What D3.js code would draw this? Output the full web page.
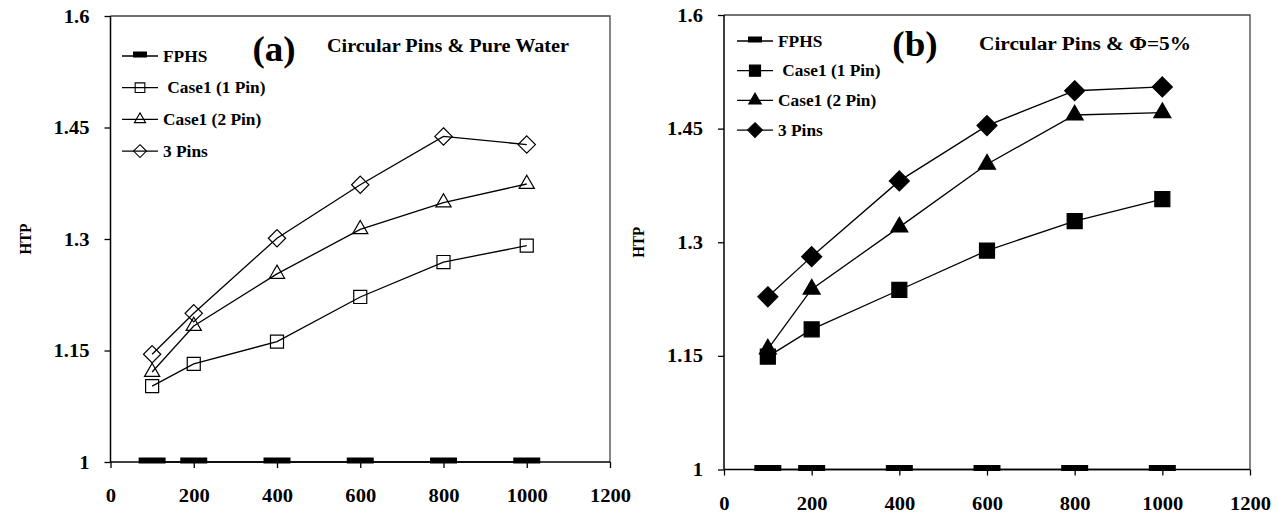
<!DOCTYPE html>
<html>
<head>
<meta charset="utf-8">
<script src="https://cdn.jsdelivr.net/npm/d3@7"></script>
<style>
  html, body { margin: 0; padding: 0; background: #fff; }
  svg { display: block; }
  text { font-family: "Liberation Serif", "Times New Roman", serif; font-weight: bold; fill: #000; }
</style>
</head>
<body>
<svg id="chart" width="1284" height="516"></svg>
<script>
// Flow rate settings shared by both panels
const xValues = [100, 200, 400, 600, 800, 1000];

// Panel (a): circular pins, pure water
const fphsA  = [1, 1, 1, 1, 1, 1];
const pin1A  = [1.102, 1.132, 1.162, 1.222, 1.269, 1.291];
const pin2A  = [1.121, 1.183, 1.253, 1.313, 1.349, 1.374];
const pins3A = [1.145, 1.200, 1.301, 1.373, 1.438, 1.427];

// Panel (b): circular pins, nanofluid at 5 %
const fphsB  = [1, 1, 1, 1, 1, 1];
const pin1B  = [1.149, 1.185, 1.237, 1.289, 1.328, 1.357];
const pin2B  = [1.159, 1.238, 1.320, 1.403, 1.468, 1.471];
const pins3B = [1.228, 1.281, 1.381, 1.454, 1.500, 1.505];

// Axis ticks
const xTicks = [0, 200, 400, 600, 800, 1000, 1200];
const yTicks = [1, 1.15, 1.3, 1.45, 1.6];
const yTickLabels = ["1", "1.15", "1.3", "1.45", "1.6"];

const seriesNames = ["FPHS", " Case1 (1 Pin)", "Case1 (2 Pin)", "3 Pins"];

const svg = d3.select("#chart");

// Widen glyphs horizontally by a factor, keeping the text anchor in place
function widen(sel, factor) {
  sel.each(function () {
    const w = this.getComputedTextLength();
    this.setAttribute("textLength", (w * factor).toFixed(1));
    this.setAttribute("lengthAdjust", "spacingAndGlyphs");
  });
}
function setWidth(sel, width) {
  sel.attr("textLength", width).attr("lengthAdjust", "spacingAndGlyphs");
}

// Rotated-square diamond (equal width and height)
const diamondType = {
  draw(ctx, size) {
    const r = Math.sqrt(size / 2);
    ctx.moveTo(0, -r); ctx.lineTo(r, 0); ctx.lineTo(0, r); ctx.lineTo(-r, 0); ctx.closePath();
  }
};
// Thick dash used for the flat reference series
const dashType = {
  draw(ctx, size) {
    const w = size, h = 6;
    ctx.rect(-w / 2, -h / 2 - 1.5, w, h);
  }
};

function drawPanel(cfg) {
  const g = svg.append("g");
  const x = d3.scaleLinear().domain([0, 1200]).range([cfg.left, cfg.right]);
  const y = d3.scaleLinear().domain([1, 1.6]).range([cfg.bottom, cfg.top]);

  // frame: top and right edges
  g.append("path")
    .attr("d", `M${cfg.left},${cfg.top}H${cfg.right}V${cfg.bottom}`)
    .attr("fill", "none").attr("stroke", "#444").attr("stroke-width", 1.3);

  const xAxis = g.append("g")
    .attr("transform", `translate(0,${cfg.bottom})`)
    .call(d3.axisBottom(x).tickValues(xTicks).tickSize(6).tickPadding(21).tickFormat(d3.format("d")));
  const yAxis = g.append("g")
    .attr("transform", `translate(${cfg.left},0)`)
    .call(d3.axisLeft(y).tickValues(yTicks).tickSize(6).tickPadding(15)
      .tickFormat((d, i) => yTickLabels[i]));
  [xAxis, yAxis].forEach(a => {
    a.attr("font-family", null);
    a.select(".domain").attr("stroke", "#000").attr("stroke-width", 1.5);
    a.selectAll(".tick line").attr("stroke", "#000").attr("stroke-width", 1.3);
    a.selectAll(".tick text").attr("font-size", 19).attr("fill", "#000");
    widen(a.selectAll(".tick text"), 1.08);
  });
  xAxis.select(".domain").attr("d", `M${cfg.left},0H${cfg.right}`);
  yAxis.select(".domain").attr("d", `M0,${cfg.bottom}V${cfg.top}`);

  const yTitle = g.append("text")
    .attr("transform", `translate(${cfg.left - 80},${(cfg.top + cfg.bottom) / 2}) rotate(-90)`)
    .attr("text-anchor", "middle").attr("font-size", 17).text("HTP");
  setWidth(yTitle, 31);

  const line = d3.line().x((d, i) => x(xValues[i])).y(d => y(d));

  const series = [
    { values: cfg.data[0], type: dashType, size: 27, fill: "#000", stroke: "none" },
    { values: cfg.data[1], type: d3.symbolSquare, size: cfg.filled ? 225 : 170, fill: cfg.filled ? "#000" : "none", stroke: "#000" },
    { values: cfg.data[2], type: d3.symbolTriangle, size: cfg.filled ? 125 : 100, fill: cfg.filled ? "#000" : "none", stroke: "#000" },
    { values: cfg.data[3], type: diamondType, size: cfg.filled ? 200 : 150, fill: cfg.filled ? "#000" : "none", stroke: "#000" }
  ];

  series.forEach(s => {
    g.append("path").datum(s.values)
      .attr("d", line).attr("fill", "none").attr("stroke", "#000").attr("stroke-width", 1.3);
    g.selectAll(null).data(s.values).enter().append("path")
      .attr("transform", (d, i) => `translate(${x(xValues[i])},${y(d)})`)
      .attr("d", d3.symbol().type(s.type).size(s.size))
      .attr("fill", s.fill).attr("stroke", s.stroke).attr("stroke-width", 1.2);
  });

  // legend
  const lg = g.append("g").attr("transform", `translate(${cfg.legendX},${cfg.legendY})`);
  series.forEach((s, i) => {
    const row = lg.append("g").attr("transform", `translate(0,${i * cfg.legendStep})`);
    row.append("line").attr("x1", 0).attr("x2", 36).attr("stroke", "#000").attr("stroke-width", 1.3);
    const sz = s.type === dashType ? 14 : s.size * 0.55;
    row.append("path").attr("transform", "translate(18,0)")
      .attr("d", d3.symbol().type(s.type).size(sz))
      .attr("fill", s.fill).attr("stroke", s.stroke).attr("stroke-width", 1.1);
    const t = row.append("text").attr("x", 41).attr("y", 5.5).attr("font-size", 16.5)
      .attr("xml:space", "preserve").style("white-space", "pre").text(seriesNames[i]);
    widen(t, 1.05);
  });

  const tag = g.append("text").attr("x", cfg.tagX).attr("y", cfg.tagY)
    .attr("text-anchor", "middle").attr("font-size", 36).text(cfg.tag);
  widen(tag, 1.03);
  const sub = g.append("text").attr("x", cfg.subX).attr("y", cfg.subY)
    .attr("text-anchor", "middle").attr("font-size", 18).text(cfg.sub);
  setWidth(sub, cfg.subWidth);
}

drawPanel({
  left: 110.5, right: 610, top: 16, bottom: 462,
  data: [fphsA, pin1A, pin2A, pins3A], filled: false,
  legendX: 122, legendY: 56, legendStep: 31.7,
  tag: "(a)", tagX: 274, tagY: 61,
  sub: "Circular Pins & Pure Water", subX: 448, subY: 52, subWidth: 242
});

drawPanel({
  left: 724, right: 1250, top: 15, bottom: 469.5,
  data: [fphsB, pin1B, pin2B, pins3B], filled: true,
  legendX: 737, legendY: 41, legendStep: 29.7,
  tag: "(b)", tagX: 915, tagY: 56,
  sub: "Circular Pins & \u03A6=5%", subX: 1085, subY: 50, subWidth: 212
});
</script>
</body>
</html>
